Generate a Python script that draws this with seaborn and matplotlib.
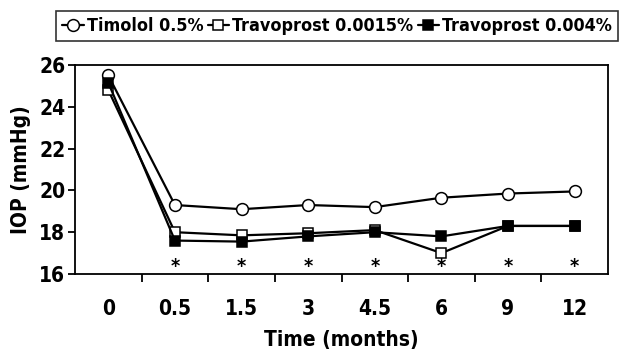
import matplotlib
matplotlib.use("Agg")
import matplotlib.pyplot as plt
import seaborn as sns
import pandas as pd
from matplotlib import font_manager

# ---- data ----
time_labels = ["0", "0.5", "1.5", "3", "4.5", "6", "9", "12"]
timolol = [25.5, 19.3, 19.1, 19.3, 19.2, 19.65, 19.85, 19.95]
travo_0015 = [24.8, 18.0, 17.85, 17.95, 18.1, 17.0, 18.3, 18.3]
travo_004 = [25.15, 17.6, 17.55, 17.8, 18.0, 17.8, 18.3, 18.3]
series_names = ["Timolol 0.5%", "Travoprost 0.0015%", "Travoprost 0.004%"]
star_labels = ["0.5", "1.5", "3", "4.5", "6", "9", "12"]
star_level = 16.38
y_ticks = [16, 18, 20, 22, 24, 26]

sns.set_theme(style="white")
entries = font_manager.fontManager.ttflist
has_narrow = any(f.name == "Liberation Sans Narrow" for f in entries)
has_dv_cond = any(f.name == "DejaVu Sans" and "ondensed" in str(f.stretch) + f.fname for f in entries)
if has_narrow:
    fam = ["Liberation Sans Narrow", "DejaVu Sans"]
    stretch = "normal"
    leg_size = 14
elif has_dv_cond:
    fam = ["DejaVu Sans"]
    stretch = "condensed"
    leg_size = 12.9
else:
    fam = ["Liberation Sans", "DejaVu Sans"]
    stretch = "normal"
    leg_size = 13
plt.rcParams["font.family"] = fam
plt.rcParams["font.stretch"] = stretch
plt.rcParams["font.weight"] = "bold"
for k in ["text.color", "axes.labelcolor", "xtick.color", "ytick.color"]:
    plt.rcParams[k] = "black"

fig = plt.figure(figsize=(6.21, 3.56), dpi=100)
ax = fig.add_axes([75 / 621, 1 - 274 / 356, 533 / 621, 209 / 356])

df = pd.DataFrame({"time": time_labels * 3,
                   "iop": timolol + travo_0015 + travo_004,
                   "group": sum([[n] * len(time_labels) for n in series_names], [])})

styles = {
    "Timolol 0.5%": dict(marker="o", mfc="white", ms=8.5),
    "Travoprost 0.0015%": dict(marker="s", mfc="white", ms=7),
    "Travoprost 0.004%": dict(marker="s", mfc="black", ms=7),
}
for name in series_names:
    sub = df[df["group"] == name]
    st = styles[name]
    sns.pointplot(data=sub, x="time", y="iop", order=time_labels, color="black",
                  marker=st["marker"], markersize=st["ms"], linewidth=1.6,
                  markerfacecolor=st["mfc"], markeredgecolor="black",
                  markeredgewidth=1.1, errorbar=None, ax=ax, label=name)

# asterisks
for lab in star_labels:
    ax.text(time_labels.index(lab), star_level, "*", ha="center", va="center",
            fontsize=14, fontweight="bold", family="DejaVu Sans", color="black")

ax.set_xlim(-0.5, len(time_labels) - 0.5)
ax.set_ylim(16, 26)
ax.set_yticks(y_ticks)
ax.set_yticklabels([str(v) for v in y_ticks], fontsize=15, fontweight="bold")
ax.set_xticks([i + 0.5 for i in range(len(time_labels) - 1)])
ax.set_xticklabels([])
ax.set_xticks(range(len(time_labels)), minor=True)
ax.set_xticklabels(time_labels, minor=True, fontsize=15, fontweight="bold")
ax.tick_params(axis="x", which="major", direction="out", length=6, width=1.3, color="black", bottom=True)
ax.tick_params(axis="x", which="minor", length=0, pad=18, bottom=True)
ax.tick_params(axis="y", direction="out", length=5, width=1.3, color="black", left=True, pad=2)
for s in ax.spines.values():
    s.set_visible(True)
    s.set_color("black")
    s.set_linewidth(1.3)
ax.set_xlabel("Time (months)", fontsize=15, fontweight="bold", labelpad=8)
ax.set_ylabel("IOP (mmHg)", fontsize=15, fontweight="bold", labelpad=6)
ax.grid(False)

h, l = ax.get_legend_handles_labels()
if ax.get_legend() is not None:
    ax.get_legend().remove()
leg = fig.legend(h[:3], l[:3], loc="center", ncol=3,
                 bbox_to_anchor=(337 / 621, 1 - 26 / 356),
                 frameon=True, fancybox=False, edgecolor="black",
                 handlelength=1.2, handletextpad=0.15, columnspacing=0.25,
                 borderaxespad=0, borderpad=0.35,
                 prop={"size": leg_size, "weight": "bold", "stretch": stretch})
leg.get_frame().set_linewidth(1.2)

fig.savefig("out.png", dpi=100)
